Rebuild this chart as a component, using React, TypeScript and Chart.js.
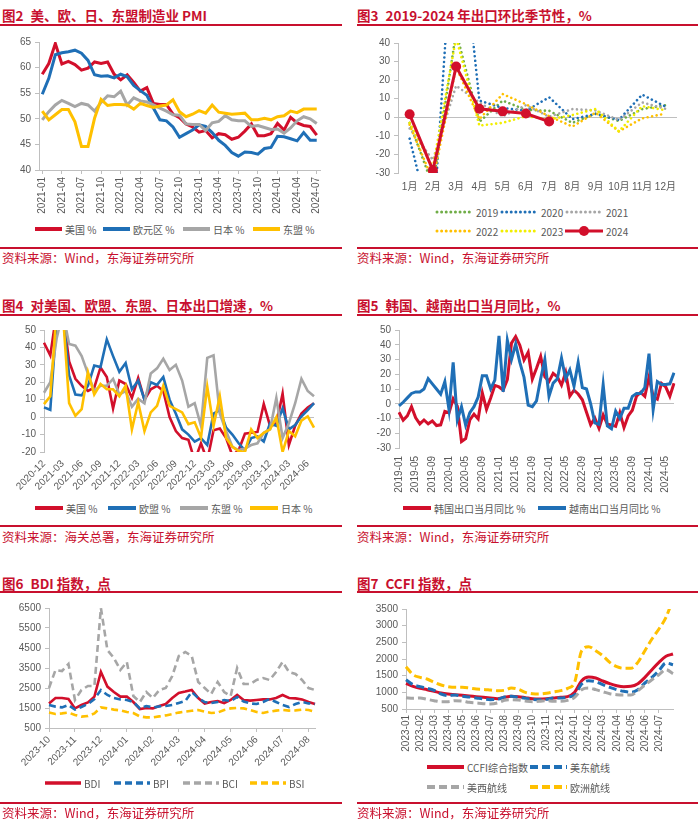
import React, { useEffect, useRef } from 'react';
import { Chart, registerables } from 'chart.js';
Chart.register(...registerables);

const C_RED = '#d20f2b';
const C_BLUE = '#1f6fb6';
const C_GRAY = '#a6a6a6';
const C_YELLOW = '#ffc000';
const C_GREEN = '#70ad47';
const C_BRIGHT = '#f2ee00';
const C_TITLE = '#c8102e';
const C_TEXT = '#595959';
const C_AXIS = '#bfbfbf';
const CJK = "'Noto Sans CJK SC', 'Liberation Sans', sans-serif";
const TICK_FONT = { family: "'Liberation Sans', 'Noto Sans CJK SC', sans-serif", size: 10 };

function monthRange(start: string, end: string): string[] {
  const [sy, sm] = start.split('-').map(Number);
  const [ey, em] = end.split('-').map(Number);
  const out: string[] = [];
  let y = sy, m = sm;
  while (y < ey || (y === ey && m <= em)) {
    out.push(`${y}-${String(m).padStart(2, '0')}`);
    m++;
    if (m > 12) { m = 1; y++; }
  }
  return out;
}

// ---------- 图2 PMI ----------
const pmiMonths = monthRange('2021-01', '2024-07');
const pmiUS = [58.7, 60.8, 64.7, 60.7, 61.2, 60.6, 59.5, 59.9, 61.1, 60.8, 61.1, 58.7, 57.6, 58.6, 57.1, 55.4, 56.1, 53.0, 52.8, 52.8, 50.9, 50.2, 49.0, 48.4, 47.4, 47.7, 46.3, 47.1, 46.9, 46.0, 46.4, 47.6, 49.0, 46.7, 46.7, 47.1, 49.1, 47.8, 50.3, 49.2, 48.7, 48.5, 46.8];
const pmiEZ = [54.8, 57.9, 62.5, 62.9, 63.1, 63.4, 62.8, 61.4, 58.6, 58.3, 58.4, 58.0, 58.7, 58.2, 56.5, 55.5, 54.6, 52.1, 49.8, 49.6, 48.4, 46.4, 47.1, 47.8, 48.8, 48.5, 47.3, 45.8, 44.8, 43.4, 42.7, 43.5, 43.4, 43.1, 44.2, 44.4, 46.6, 46.5, 46.1, 45.7, 47.3, 45.8, 45.8];
const pmiJP = [49.8, 51.4, 52.7, 53.6, 53.0, 52.4, 53.0, 52.7, 51.5, 53.2, 54.5, 54.3, 55.4, 52.7, 54.1, 53.5, 53.3, 52.7, 52.1, 51.5, 50.8, 50.7, 49.0, 48.9, 48.9, 47.7, 49.2, 49.5, 50.6, 49.8, 49.6, 49.6, 48.5, 48.7, 48.3, 47.9, 48.0, 47.2, 48.2, 49.6, 50.4, 50.0, 49.1];
const pmiASEAN = [51.5, 49.8, 50.8, 51.8, 51.8, 49.4, 44.6, 44.6, 50.1, 53.8, 52.6, 52.8, 52.8, 52.7, 51.9, 53.0, 52.6, 52.2, 52.5, 52.7, 53.7, 51.4, 50.4, 50.9, 51.6, 51.1, 52.7, 51.3, 51.1, 50.9, 51.0, 51.1, 49.8, 49.8, 50.1, 49.8, 50.4, 50.6, 51.5, 51.2, 51.9, 51.9, 51.9];

// ---------- 图3 seasonality ----------
const seasonMonths = ['1月', '2月', '3月', '4月', '5月', '6月', '7月', '8月', '9月', '10月', '11月', '12月'];
const s2019 = [-3, -37, 46, -2.5, 9, 4, 3.5, -3, 2, -2, 4.4, 6.5];
const s2020 = [-11.5, -62, 129, 9, 5, 3.5, 10.8, -1, 1.8, -1.4, 12.2, 5.8];
const s2021 = [-6, -23, 17, 8, 0.5, 6.5, 0.3, 4.4, 3.7, -1.5, 8, 4.6];
const s2022 = [-4, -34, 27, -1, 12.5, 7, 0.6, -5, 2.5, -7.6, -0.6, 2];
const s2023 = [-3, -27, 43, -4.5, -3, 0.6, -1.2, 1.2, 4.5, -7.6, 6, 3.8];
const s2024 = [1.6, -28.6, 27.3, 4.6, 3.2, 2.0, -2.3];

// ---------- 图4 exports by destination ----------
const expMonths = monthRange('2020-12', '2024-07');
const expUS = [42.7, 35.4, 60, 60, 32, 22, 18, 15, 17, 28.5, 23, 5, 21, 19, 11, 22.5, 10, 16, 18, 15, 0, -8, -12, -13, -25, -15, -25, -7.5, -6.5, -12, -22, -19, -9.5, -9, -8.5, 7.5, -5, -4, 13.5, -16, -5, 2, 5.5, 8];
const expEU = [5.6, 4.2, 55, 60, 24, 13, 12.5, 18, 29.6, 28.7, 44.6, 35, 26, 31, 16, 21, 10, 20, 18.5, 23, 10, 2, -7, -10, -14, -12, -16, 2, 4, -6, -10, -15, -19, -12, -11, -14, -3.5, -5, 5, -7, -4.5, 0.5, 4, 8];
const expASEAN = [14, 20, 45, 60, 42, 41, 35, 25, 15, 18, 18, 22, 13, 15, 6, 10.5, 8, 25, 28, 33.5, 27, 30, 21, 6, 8, -5, 34, 35.5, 2, -8, -17, -19, -18, -16, -15, -9, -7, 11, -12, -3.5, 8, 22, 15, 12];
const expJP = [7.5, 12, 60, 60, 8, 0.8, 4.6, 25.8, 13, 19, 16, 16, 12, 18, -7, 8.5, -8, 2.7, 6.5, 18, 6.5, 4.6, 2.7, -4, -3, -11.7, 17.5, -5, 12, -12, -17, -19.5, -20, -7, -12, -9, -7, 0, -20, -8, -11, -2, 0.5, -6];

// ---------- 图5 Korea / Vietnam ----------
const kvMonths = monthRange('2019-01', '2024-07');
const korea = [-5.8, -11.1, -8.2, -2.0, -9.5, -13.7, -11.0, -13.6, -11.7, -14.8, -14.3, -5.2,
  -6.1, 3.3, -1.6, -25.6, -23.6, -10.9, -7.1, -10.3, 7.3, -3.8, 3.9, 12.4,
  11.4, 9.3, 16.4, 41.1, 45.6, 39.7, 29.6, 34.9, 16.7, 24.0, 32.1, 18.3,
  15.2, 20.6, 18.2, 12.6, 21.3, 5.2, 9.2, 6.6, 2.7, -5.8, -14.3, -9.7,
  -16.6, -7.6, -13.8, -14.3, -15.3, -6.0, -16.2, -8.3, -4.4, 5.1, 7.7, 5.0,
  18.0, 4.8, 3.1, 13.8, 11.5, 5.1, 13.9];
const vietnam = [-1.5, 1, 4, 7, 8, 8, 10, 17, 13.5, 10, 6.5, 15,
  -4, 28, -11, -2, -14.5, -6, -2, 4.5, 19, 19, 10, 16,
  46, 8, 43, 30, 40.5, 28, 18, -1, -2, 2, 17, 30,
  5, 14, 17, 31, 17, 23, 12, 28, 11, 10, 0, -13,
  -14, 13, -15, -17, -5, -10, -3, -3, 5, 7, 7, 11,
  34, -4, 15, 13, 13, 13.5, 21];

// ---------- 图6 BDI (4 readings per month) ----------
const bdiMonths = monthRange('2023-10', '2024-08');
const bdiLabels = Array.from({ length: 42 }, (_, k) => (k % 4 === 0 ? bdiMonths[k / 4] || '' : ''));
const bdi = [1730, 2000, 2000, 1950, 1480, 1650, 1780, 2070, 3300, 2570, 2300, 2070, 2070, 1800, 1450, 1500, 1480, 1600, 1700, 2000, 2250, 2320, 2400, 2000, 1720, 1800, 1850, 1750, 1900, 2150, 1900, 1870, 1900, 1930, 1930, 2000, 2150, 2000, 1980, 1930, 1800, 1700];
const bpi = [1650, 1570, 1530, 1650, 1420, 1550, 1700, 1950, 2400, 2150, 2000, 1930, 1900, 1800, 1480, 1600, 1530, 1580, 1600, 1650, 1750, 1850, 2300, 2000, 1800, 1750, 1800, 1900, 1850, 2050, 1820, 1730, 1700, 1800, 1950, 1800, 1650, 1550, 1700, 1800, 1730, 1700];
const bci = [2500, 3400, 3350, 3700, 1900, 2400, 2600, 2600, 6500, 4400, 4000, 3400, 3800, 2100, 1800, 2300, 2000, 2400, 2500, 3100, 4100, 4300, 4100, 2800, 2500, 2200, 2800, 2300, 2100, 3500, 2700, 2700, 2900, 3000, 2900, 3300, 3800, 3300, 3200, 2900, 2500, 2400];
const bsi = [1270, 1200, 1230, 1270, 1150, 1070, 1100, 1230, 1530, 1480, 1420, 1380, 1300, 1250, 1080, 1030, 1030, 1080, 1130, 1200, 1270, 1320, 1360, 1400, 1320, 1250, 1270, 1400, 1480, 1500, 1480, 1400, 1300, 1250, 1320, 1370, 1400, 1370, 1380, 1420, 1400, 1320];

// ---------- 图7 CCFI (2 readings per month) ----------
const ccfiMonths = monthRange('2023-01', '2024-07');
const ccfiLabels = Array.from({ length: 39 }, (_, k) => (k % 2 === 0 ? ccfiMonths[k / 2] || '' : ''));
const ccfi = [1270, 1180, 1120, 1080, 1030, 980, 950, 930, 910, 890, 870, 850, 830, 810, 850, 880, 870, 840, 810, 800, 810, 830, 850, 870, 1000, 1350, 1460, 1430, 1340, 1260, 1200, 1170, 1180, 1260, 1450, 1680, 1900, 2080, 2150];
const usEast = [1380, 1230, 1170, 1120, 1060, 950, 900, 920, 880, 860, 830, 800, 780, 790, 860, 880, 850, 820, 790, 780, 790, 830, 830, 860, 920, 1250, 1350, 1320, 1230, 1150, 1080, 1030, 1000, 1080, 1280, 1450, 1650, 1880, 1830];
const usWest = [840, 820, 830, 790, 750, 720, 720, 750, 740, 700, 680, 660, 650, 680, 760, 780, 770, 740, 720, 730, 750, 730, 730, 760, 850, 1080, 1130, 1080, 1020, 960, 930, 920, 920, 1050, 1220, 1380, 1530, 1680, 1560];
const europe = [1770, 1530, 1450, 1400, 1300, 1220, 1170, 1150, 1150, 1130, 1100, 1090, 1070, 1050, 1060, 1130, 1090, 1000, 960, 950, 970, 1010, 1050, 1120, 1300, 2250, 2370, 2250, 2100, 1900, 1770, 1720, 1720, 1900, 2250, 2600, 2900, 3250, 3800];

// ---------- helpers ----------
type Rect = { left: number; top: number; width: number; height: number };
type Plot = { l: number; t: number; r: number; b: number };

function line(label: string, data: number[], color: string, width: number, order: number, extra: any = {}) {
  return { label, data, borderColor: color, backgroundColor: color, borderWidth: width, pointRadius: 0, fill: false, order, ...extra };
}
const dotted = { borderDash: [0.01, 4.6], borderCapStyle: 'round' };
const dashed = { borderDash: [7, 4] };

function yAxis(min: number, max: number, step: number, zero: boolean) {
  return {
    min, max,
    ticks: { stepSize: step, autoSkip: false, font: TICK_FONT, color: C_TEXT, padding: 4, callback: (v: any) => String(v) },
    grid: zero
      ? { drawOnChartArea: true, color: (c: any) => (c.tick && c.tick.value === 0 ? C_AXIS : 'rgba(0,0,0,0)'), tickColor: C_AXIS, tickLength: 4 }
      : { drawOnChartArea: false, color: C_AXIS, tickLength: 4 },
    border: { display: true, color: C_AXIS, width: 1 },
  };
}

function xAxis(labels: string[], show: (i: number) => boolean, rot: number, offset: boolean, axisLine: boolean, padding: number) {
  return {
    type: 'category',
    offset,
    ticks: {
      autoSkip: false, maxRotation: rot, minRotation: rot, font: TICK_FONT, color: C_TEXT, padding,
      callback: (_v: any, i: number) => (show(i) && labels[i] ? labels[i] : null),
    },
    grid: axisLine
      ? { display: true, drawOnChartArea: false, color: C_AXIS, tickLength: 4 }
      : { display: false, drawTicks: false },
    border: { display: axisLine, color: C_AXIS, width: 1 },
  };
}

function makeConfig(canvas: Rect, plot: Plot, labels: string[], datasets: any[], x: any, y: any) {
  const yw = plot.l - canvas.left;
  const xh = canvas.top + canvas.height - plot.b;
  return {
    type: 'line',
    data: { labels, datasets },
    options: {
      responsive: false,
      animation: false,
      events: [],
      layout: { padding: { top: plot.t - canvas.top, right: canvas.left + canvas.width - plot.r, left: 0, bottom: 0 } },
      plugins: { legend: { display: false }, tooltip: { enabled: false } },
      elements: { point: { radius: 0 }, line: { tension: 0 } },
      scales: {
        x: { ...x, afterFit: (s: any) => { s.height = xh; } },
        y: { ...y, afterFit: (s: any) => { s.width = yw; } },
      },
    },
  };
}

function ChartBox({ rect, config }: { rect: Rect; config: any }) {
  const ref = useRef<HTMLCanvasElement>(null);
  useEffect(() => {
    const chart = new Chart(ref.current as HTMLCanvasElement, config);
    return () => chart.destroy();
  }, []);
  return (
    <div style={{ position: 'absolute', left: rect.left, top: rect.top, width: rect.width, height: rect.height }}>
      <canvas ref={ref} width={rect.width} height={rect.height} style={{ width: rect.width, height: rect.height, display: 'block' }} />
    </div>
  );
}

function Title({ x, y, num, text }: { x: number; y: number; num: string; text: string }) {
  return (
    <div style={{ position: 'absolute', left: x, top: y - 9, height: 18, lineHeight: '18px', fontFamily: CJK, fontWeight: 700, fontSize: 13.5, color: C_TITLE, whiteSpace: 'nowrap' }}>
      <span>{num}</span><span style={{ marginLeft: 7 }}>{text}</span>
    </div>
  );
}

function Rule({ x, y, w }: { x: number; y: number; w: number }) {
  return <div style={{ position: 'absolute', left: x, top: y - 1, width: w, height: 2, background: C_TITLE }} />;
}

function Source({ x, y, text }: { x: number; y: number; text: string }) {
  return (
    <div style={{ position: 'absolute', left: x, top: y - 8, height: 16, lineHeight: '16px', fontFamily: CJK, fontSize: 12.5, color: C_TITLE, whiteSpace: 'nowrap' }}>{text}</div>
  );
}

type LegItem = { x: number; y: number; w: number; color: string; text: string; lw?: number; dash?: string; round?: boolean; marker?: boolean };
function Legend({ items }: { items: LegItem[] }) {
  return (
    <>
      {items.map((it, i) => (
        <div key={i} style={{ position: 'absolute', left: it.x, top: it.y - 7, height: 14, display: 'flex', alignItems: 'center', whiteSpace: 'nowrap', fontFamily: CJK, fontSize: 10, color: C_TEXT }}>
          <svg width={it.w} height={12} style={{ display: 'block' }}>
            <line x1={it.round ? 2 : 0} y1={6} x2={it.round ? it.w - 2 : it.w} y2={6} stroke={it.color} strokeWidth={it.lw || 4}
              strokeDasharray={it.dash} strokeLinecap={it.round ? 'round' : 'butt'} />
            {it.marker ? <circle cx={it.w / 2} cy={6} r={5} fill={it.color} /> : null}
          </svg>
          <span style={{ marginLeft: 3 }}>{it.text}</span>
        </div>
      ))}
    </>
  );
}

// ---------- chart configs ----------
const r1: Rect = { left: 0, top: 30, width: 345, height: 185 };
const p1: Plot = { l: 39, t: 42, r: 320, b: 170 };
const cfg1 = makeConfig(r1, p1, pmiMonths, [
  line('美国 %', pmiUS, C_RED, 3, 4),
  line('欧元区 %', pmiEZ, C_BLUE, 3, 3),
  line('日本 %', pmiJP, C_GRAY, 3, 2),
  line('东盟 %', pmiASEAN, C_YELLOW, 3, 1),
], xAxis(pmiMonths, (i) => i % 3 === 0, 90, true, true, 3), yAxis(40, 65, 5, false));

const r2: Rect = { left: 357, top: 30, width: 343, height: 170 };
const p2: Plot = { l: 398, t: 43, r: 677, b: 173 };
const cfg2 = makeConfig(r2, p2, seasonMonths, [
  line('2019', s2019, C_GREEN, 2.6, 6, dotted),
  line('2020', s2020, C_BLUE, 2.6, 5, dotted),
  line('2021', s2021, C_GRAY, 2.6, 4, dotted),
  line('2022', s2022, C_YELLOW, 2.6, 3, dotted),
  line('2023', s2023, C_BRIGHT, 2.6, 2, dotted),
  line('2024', s2024, C_RED, 3, 1, { pointRadius: 5, pointBackgroundColor: C_RED, pointBorderWidth: 0 }),
], xAxis(seasonMonths, () => true, 0, true, false, 8), yAxis(-30, 40, 10, true));

const r3: Rect = { left: 0, top: 318, width: 345, height: 180 };
const p3: Plot = { l: 44, t: 330, r: 314, b: 452 };
const cfg3 = makeConfig(r3, p3, expMonths, [
  line('美国 %', expUS, C_RED, 2.6, 4),
  line('欧盟 %', expEU, C_BLUE, 2.6, 3),
  line('东盟 %', expASEAN, C_GRAY, 2.6, 2),
  line('日本 %', expJP, C_YELLOW, 2.6, 1),
], xAxis(expMonths, (i) => i % 3 === 0, 45, false, false, 6), yAxis(-20, 50, 10, true));

const r4: Rect = { left: 357, top: 318, width: 343, height: 180 };
const p4: Plot = { l: 399, t: 330, r: 674, b: 448 };
const cfg4 = makeConfig(r4, p4, kvMonths, [
  line('韩国出口当月同比 %', korea, C_RED, 3, 2),
  line('越南出口当月同比 %', vietnam, C_BLUE, 3, 1),
], xAxis(kvMonths, (i) => i % 4 === 0, 90, false, false, 8), yAxis(-30, 50, 10, true));

const r5: Rect = { left: 0, top: 597, width: 345, height: 180 };
const p5: Plot = { l: 49, t: 608, r: 315, b: 728 };
const cfg5 = makeConfig(r5, p5, bdiLabels, [
  line('BDI', bdi, C_RED, 2.6, 4),
  line('BPI', bpi, C_BLUE, 2.6, 3, dashed),
  line('BCI', bci, C_GRAY, 2.6, 2, dashed),
  line('BSI', bsi, C_YELLOW, 2.6, 1, dashed),
], xAxis(bdiLabels, (i) => i % 4 === 0, 45, false, true, 2), yAxis(500, 6500, 1000, false));

const r6: Rect = { left: 357, top: 597, width: 343, height: 160 };
const p6: Plot = { l: 406, t: 609, r: 673, b: 709 };
const smooth = { cubicInterpolationMode: 'monotone' };
const cfg6 = makeConfig(r6, p6, ccfiLabels, [
  line('CCFI综合指数', ccfi, C_RED, 3, 4, smooth),
  line('美东航线', usEast, C_BLUE, 3, 3, { ...smooth, borderDash: [8, 4] }),
  line('美西航线', usWest, C_GRAY, 3, 2, { ...smooth, borderDash: [8, 4] }),
  line('欧洲航线', europe, C_YELLOW, 3, 1, { ...smooth, borderDash: [8, 4] }),
], xAxis(ccfiLabels, (i) => i % 2 === 0, 90, false, true, 2), yAxis(500, 3500, 500, false));

const SRC_WIND = '资料来源：Wind，东海证券研究所';
const SRC_CUSTOMS = '资料来源：海关总署，东海证券研究所';

export default function App() {
  return (
    <div style={{ position: 'absolute', left: 0, top: 0, width: 700, height: 823, background: '#ffffff', overflow: 'hidden' }}>
      {/* row 1 */}
      <Title x={2} y={15} num="图2" text="美、欧、日、东盟制造业 PMI" />
      <Rule x={0} y={25} w={342} />
      <ChartBox rect={r1} config={cfg1} />
      <Legend items={[
        { x: 35, y: 229, w: 27, color: C_RED, text: '美国 %' },
        { x: 103, y: 229, w: 27, color: C_BLUE, text: '欧元区 %' },
        { x: 183, y: 229, w: 27, color: C_GRAY, text: '日本 %' },
        { x: 253, y: 229, w: 27, color: C_YELLOW, text: '东盟 %' },
      ]} />
      <Rule x={0} y={248} w={342} />
      <Source x={2} y={258} text={SRC_WIND} />

      <Title x={357} y={15} num="图3" text="2019-2024 年出口环比季节性，%" />
      <Rule x={357} y={25} w={341} />
      <ChartBox rect={r2} config={cfg2} />
      <Legend items={[
        { x: 435, y: 212, w: 38, color: C_GREEN, text: '2019', lw: 3, dash: '0.01 4.6', round: true },
        { x: 500, y: 212, w: 38, color: C_BLUE, text: '2020', lw: 3, dash: '0.01 4.6', round: true },
        { x: 565, y: 212, w: 38, color: C_GRAY, text: '2021', lw: 3, dash: '0.01 4.6', round: true },
        { x: 435, y: 231, w: 38, color: C_YELLOW, text: '2022', lw: 3, dash: '0.01 4.6', round: true },
        { x: 500, y: 231, w: 38, color: C_BRIGHT, text: '2023', lw: 3, dash: '0.01 4.6', round: true },
        { x: 565, y: 231, w: 38, color: C_RED, text: '2024', lw: 3, marker: true },
      ]} />
      <Rule x={357} y={248} w={341} />
      <Source x={357} y={258} text={SRC_WIND} />

      {/* row 2 */}
      <Title x={2} y={305} num="图4" text="对美国、欧盟、东盟、日本出口增速，%" />
      <Rule x={0} y={315} w={342} />
      <ChartBox rect={r3} config={cfg3} />
      <Legend items={[
        { x: 35, y: 508, w: 28, color: C_RED, text: '美国 %' },
        { x: 108, y: 508, w: 28, color: C_BLUE, text: '欧盟 %' },
        { x: 180, y: 508, w: 28, color: C_GRAY, text: '东盟 %' },
        { x: 250, y: 508, w: 28, color: C_YELLOW, text: '日本 %' },
      ]} />
      <Rule x={0} y={526} w={342} />
      <Source x={2} y={537} text={SRC_CUSTOMS} />

      <Title x={357} y={305} num="图5" text="韩国、越南出口当月同比，%" />
      <Rule x={357} y={315} w={341} />
      <ChartBox rect={r4} config={cfg4} />
      <Legend items={[
        { x: 403, y: 508, w: 28, color: C_RED, text: '韩国出口当月同比 %' },
        { x: 538, y: 508, w: 28, color: C_BLUE, text: '越南出口当月同比 %' },
      ]} />
      <Rule x={357} y={526} w={341} />
      <Source x={357} y={537} text={SRC_WIND} />

      {/* row 3 */}
      <Title x={2} y={583} num="图6" text="BDI 指数，点" />
      <Rule x={0} y={592} w={342} />
      <ChartBox rect={r5} config={cfg5} />
      <Legend items={[
        { x: 45, y: 783, w: 36, color: C_RED, text: 'BDI', lw: 3.5 },
        { x: 114, y: 783, w: 36, color: C_BLUE, text: 'BPI', lw: 3.5, dash: '7 4' },
        { x: 183, y: 783, w: 36, color: C_GRAY, text: 'BCI', lw: 3.5, dash: '7 4' },
        { x: 250, y: 783, w: 36, color: C_YELLOW, text: 'BSI', lw: 3.5, dash: '7 4' },
      ]} />
      <Rule x={0} y={803} w={342} />
      <Source x={2} y={813} text={SRC_WIND} />

      <Title x={357} y={583} num="图7" text="CCFI 指数，点" />
      <Rule x={357} y={592} w={341} />
      <ChartBox rect={r6} config={cfg6} />
      <Legend items={[
        { x: 427, y: 767, w: 37, color: C_RED, text: 'CCFI综合指数' },
        { x: 530, y: 767, w: 37, color: C_BLUE, text: '美东航线', dash: '8 4' },
        { x: 427, y: 787, w: 37, color: C_GRAY, text: '美西航线', dash: '8 4' },
        { x: 530, y: 787, w: 37, color: C_YELLOW, text: '欧洲航线', dash: '8 4' },
      ]} />
      <Rule x={357} y={803} w={341} />
      <Source x={357} y={813} text={SRC_WIND} />
    </div>
  );
}
